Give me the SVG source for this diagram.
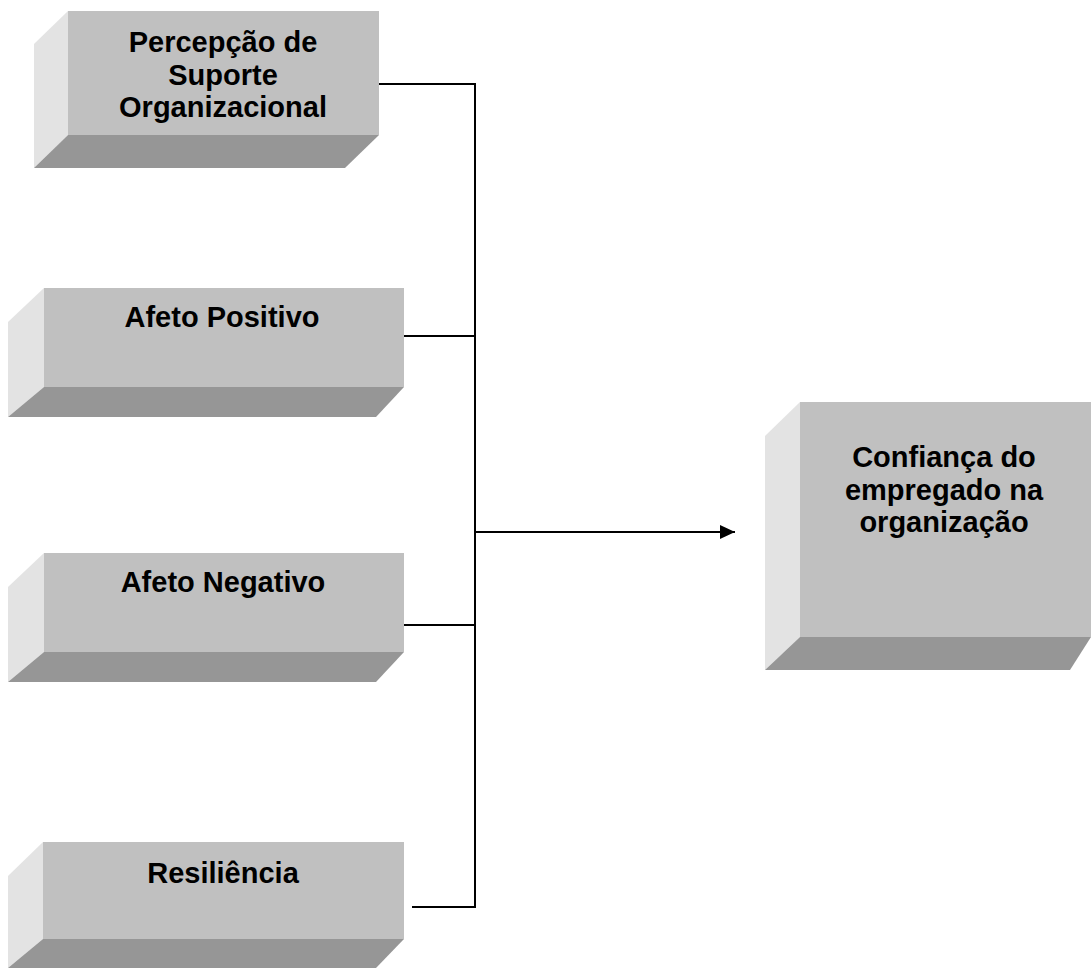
<svg xmlns="http://www.w3.org/2000/svg" width="1091" height="968" viewBox="0 0 1091 968">
<style>
.front{fill:#c0c0c0}
.side{fill:#e3e3e3}
.bottom{fill:#969696}
.lbl{font-family:"Liberation Sans",Arial,sans-serif;font-weight:bold;font-size:29px;fill:#000;text-anchor:middle}
.conn{stroke:#000;stroke-width:2;fill:none}
</style>
<defs>
<marker id="arrow" markerWidth="15" markerHeight="14" refX="15" refY="7" orient="auto" markerUnits="userSpaceOnUse">
<path d="M0,0 L15,7 L0,14 Z" fill="#000"/>
</marker>
</defs>
<rect width="1091" height="968" fill="#fff"/>
<g id="node-percepcao">
<polygon class="side" points="68,11 34,44 34,168 68,135"/>
<polygon class="bottom" points="68,135 379,135 345,168 34,168"/>
<rect class="front" x="68" y="11" width="311" height="124"/>
<text class="lbl" x="223" y="52">Percepção de</text>
<text class="lbl" x="223" y="84.5">Suporte</text>
<text class="lbl" x="223" y="117">Organizacional</text>
</g>
<g id="node-afeto-positivo">
<polygon class="side" points="44,288 8,322 8,417 44,387"/>
<polygon class="bottom" points="44,387 404,387 376,417 8,417"/>
<rect class="front" x="44" y="288" width="360" height="99"/>
<text class="lbl" x="222" y="327">Afeto Positivo</text>
</g>
<g id="node-afeto-negativo">
<polygon class="side" points="44,553 8,587 8,682 44,652"/>
<polygon class="bottom" points="44,652 404,652 376,682 8,682"/>
<rect class="front" x="44" y="553" width="360" height="99"/>
<text class="lbl" x="223" y="592">Afeto Negativo</text>
</g>
<g id="node-resiliencia">
<polygon class="side" points="43,842 8,876 8,968 43,939"/>
<polygon class="bottom" points="43,939 404,939 376,968 8,968"/>
<rect class="front" x="43" y="842" width="361" height="97"/>
<text class="lbl" x="223" y="883">Resiliência</text>
</g>
<g id="node-confianca">
<polygon class="side" points="800,402 765,436 765,670 800,637"/>
<polygon class="bottom" points="800,637 1091,637 1070,670 765,670"/>
<rect class="front" x="800" y="402" width="291" height="235"/>
<text class="lbl" x="944" y="467">Confiança do</text>
<text class="lbl" x="944" y="499.5">empregado na</text>
<text class="lbl" x="944" y="532">organização</text>
</g>
<g id="connectors">
<polyline class="conn" points="379,84 475,84 475,907 412,907"/>
<line class="conn" x1="404" y1="336" x2="475" y2="336"/>
<line class="conn" x1="404" y1="625" x2="475" y2="625"/>
<line class="conn" x1="475" y1="532" x2="735" y2="532" marker-end="url(#arrow)"/>
</g>
</svg>
